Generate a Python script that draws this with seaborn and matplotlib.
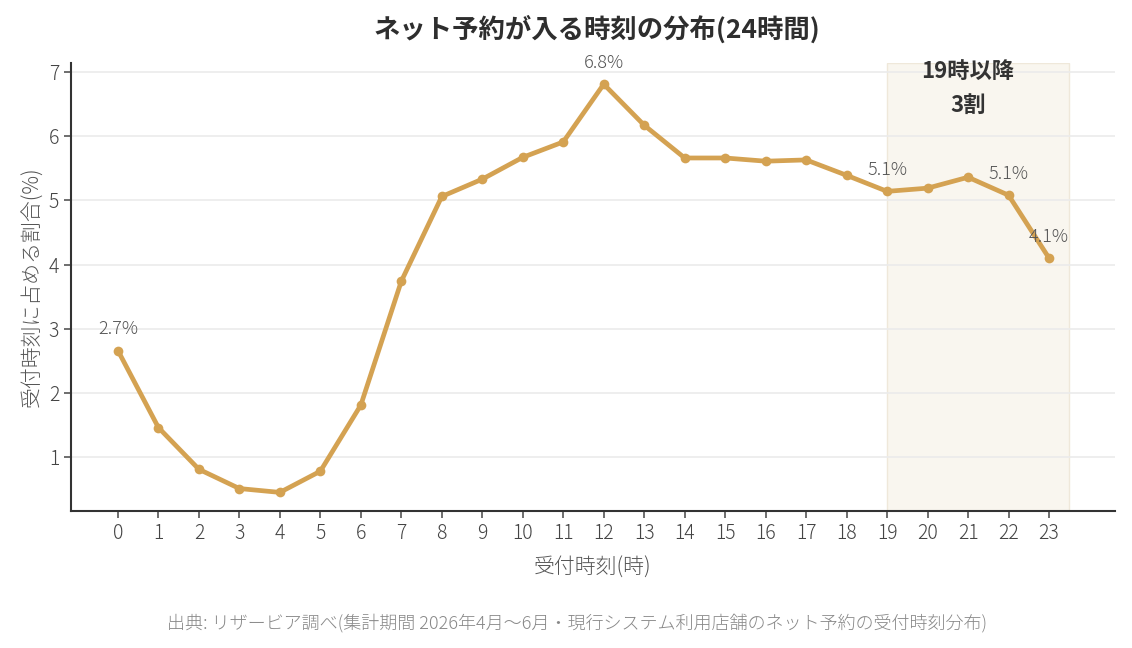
import matplotlib
matplotlib.use("Agg")
import matplotlib.pyplot as plt
import seaborn as sns
import pandas as pd

hours = list(range(24))
share = [2.66, 1.46, 0.81, 0.51, 0.45, 0.78, 1.81, 3.74, 5.06, 5.33, 5.67, 5.91,
         6.81, 6.17, 5.66, 5.66, 5.61, 5.63, 5.39, 5.14, 5.19, 5.36, 5.08, 4.10]
label_hours = [0, 12, 19, 22, 23]
label_texts = ["2.7%", "6.8%", "5.1%", "5.1%", "4.1%"]

title = "ネット予約が入る時刻の分布(24時間)"
xlabel = "受付時刻(時)"
ylabel = "受付時刻に占める割合(%)"
note = "出典: リザービア調べ(集計期間 2026年4月〜6月・現行システム利用店舗のネット予約の受付時刻分布)"
span_text = "19時以降\n3割"

sns.set_theme(style="white")
plt.rcParams['font.family'] = ['Noto Sans CJK JP', 'DejaVu Sans']

df = pd.DataFrame({"hour": hours, "share": share})
color = "#D4A252"
dark = "#333333"
light_w = 300

fig = plt.figure(figsize=(11.32, 6.48), dpi=100)
ax = fig.add_axes([0.0627, 0.2114, 0.9223, 0.6914])

ax.axvspan(19, 23.5, facecolor="#F9F6EF", edgecolor="#EFE8DA", linewidth=1, zorder=0)
sns.lineplot(data=df, x="hour", y="share", ax=ax, color=color, linewidth=3.4,
             marker="o", markersize=7, markeredgewidth=0, zorder=3)

for h, t in zip(label_hours, label_texts):
    ax.annotate(t, (h, share[h]), xytext=(0, 9), textcoords="offset points",
                ha="center", va="bottom", fontsize=13, fontweight=light_w,
                color="#555555", zorder=4)

ax.text(21, 7.19, span_text, ha="center", va="top", fontsize=16, fontweight="bold",
        color=dark, linespacing=1.62)

ax.set_xlim(-1.16, 24.63)
ax.set_ylim(0.16, 7.14)
ax.set_xticks(hours)
ax.set_yticks([1, 2, 3, 4, 5, 6, 7])
ax.yaxis.grid(True, color="#EBEBEB", linewidth=1.2)
ax.xaxis.grid(False)
ax.set_axisbelow(True)
for s in ["top", "right"]:
    ax.spines[s].set_visible(False)
for s in ["left", "bottom"]:
    ax.spines[s].set_color(dark)
    ax.spines[s].set_linewidth(1.5)
ax.tick_params(axis="both", which="both", length=5, width=1.2, color="#555555",
               labelsize=14, labelcolor="#444444", left=True, bottom=True)
for lab in ax.get_xticklabels() + ax.get_yticklabels():
    lab.set_fontweight(light_w)
ax.set_xlabel(xlabel, fontsize=15, color="#555555", labelpad=9, fontweight=light_w)
ax.set_ylabel(ylabel, fontsize=15, color="#555555", labelpad=4, fontweight=light_w)

fig.text(0.527, 0.954, title, ha="center", va="center", fontsize=19, fontweight="bold", color="#2E2E2E")
fig.text(0.5097, 0.038, note, ha="center", va="center", fontsize=13, fontweight=light_w, color="#888888")

fig.savefig("out.png", dpi=100)
